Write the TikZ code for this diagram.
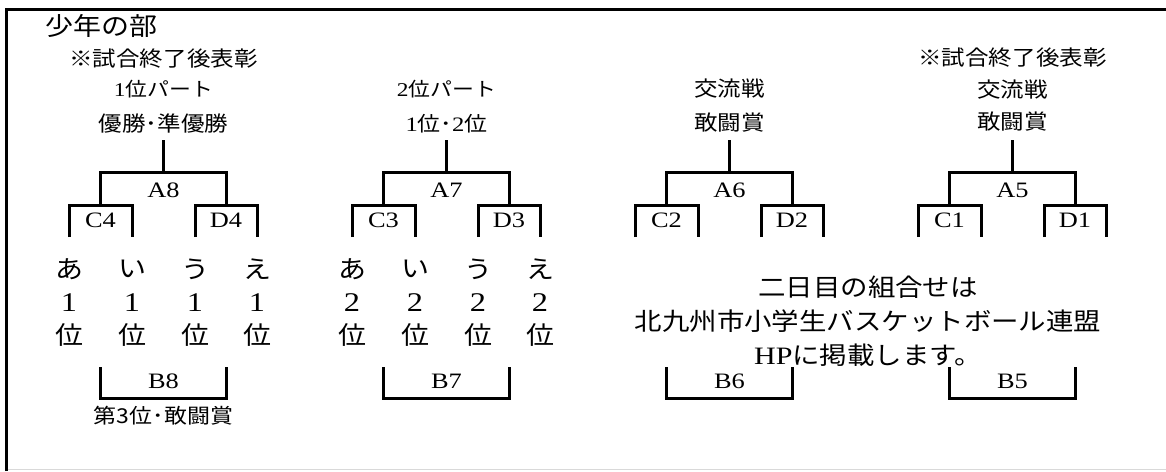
\documentclass[tikz,border=0pt]{standalone}
\usepackage{fontspec}
\setmainfont[FakeStretch=1.2]{Liberation Serif}
\newfontfamily\jpf[FakeStretch=1.12]{Noto Sans CJK JP}
\newcommand\js[1]{\jpf\fontsize{#1}{#1}\selectfont}
\begin{document}
\begin{tikzpicture}[x=1pt,y=-1pt,
  br/.style={line width=3pt},
  lat/.style={inner sep=0pt,font=\rmfamily\fontsize{22}{22}\selectfont},
  jt/.style={inner sep=0pt,font=\js{#1}}, jt/.default=25,
  dig/.style={inner sep=0pt,font=\rmfamily\fontsize{27}{27}\selectfont}]
\useasboundingbox (0,0) rectangle (1166,471);
\fill[white] (0,0) rectangle (1166,471);
% frame
\coordinate (fb) at (6.5,471);
\coordinate (ftl) at (6.5,9);
\coordinate (ftr) at (1166,9);
\draw[line width=3pt] (fb) -- (ftl) -- (ftr);
\coordinate (gl) at (8,469.5);
\coordinate (gr) at (1166,469.5);
\draw[black!15,line width=1.2pt] (gl) -- (gr);
% brackets
\foreach \g/\a/\c in {0/8/4,1/7/3,2/6/2,3/5/1}{
 \begin{scope}[xshift=\g*283pt]
  \coordinate (s\g) at (163.5,140);
  \coordinate (m\g) at (163.5,172);
  \coordinate (al\g) at (100.5,172);
  \coordinate (ar\g) at (226,172);
  \coordinate (cm\g) at (100.5,205);
  \coordinate (dm\g) at (226,205);
  \coordinate (p1\g) at (69,237);  \coordinate (q1\g) at (69,205);
  \coordinate (p2\g) at (132,237); \coordinate (q2\g) at (132,205);
  \coordinate (p3\g) at (195,237); \coordinate (q3\g) at (195,205);
  \coordinate (p4\g) at (257,237); \coordinate (q4\g) at (257,205);
  \coordinate (b1\g) at (100.5,367); \coordinate (b2\g) at (100.5,398);
  \coordinate (b3\g) at (226,398);   \coordinate (b4\g) at (226,367);
  \draw[br] (s\g) -- (m\g);
  \draw[br] (cm\g) -- (al\g) -- (ar\g) -- (dm\g);
  \draw[br] (p1\g) -- (q1\g) -- (q2\g) -- (p2\g);
  \draw[br] (p3\g) -- (q3\g) -- (q4\g) -- (p4\g);
  \draw[br] (b1\g) -- (b2\g) -- (b3\g) -- (b4\g);
  \node[lat] (A\g) at (163.5,190) {A\a};
  \node[lat] (C\g) at (100.5,220.5) {C\c};
  \node[lat] (D\g) at (226,220.5) {D\c};
  \node[lat] (B\g) at (163.5,381) {B\a};
 \end{scope}
}
% leaves
\foreach \g/\n in {0/1,1/2}{
  \foreach \i/\k/\x in {1/あ/69,2/い/132,3/う/195,4/え/257}{
    \node[jt] (k\g\i) at (\x+\g*283,269) {\k};
    \node[dig] (n\g\i) at (\x+\g*283,302.5) {\n};
    \node[jt] (r\g\i) at (\x+\g*283,335) {位};
  }
}
% headers
\node[jt=25,anchor=west] (title) at (45,26) {少年の部};
\node[jt=21] (h0a) at (163.5,59) {※試合終了後表彰};
\node[jt=19.5] (h0b) at (163.5,89) {{\rmfamily 1}位パート};
\node[jt=21] (h0c) at (163.5,124) {優勝･準優勝};
\node[jt=19.5] (h1b) at (446.5,89) {{\rmfamily 2}位パート};
\node[jt=20.5] (h1c) at (446.5,124) {{\rmfamily 1}位･{\rmfamily 2}位};
\node[jt=21] (h2b) at (729.5,89) {交流戦};
\node[jt=21] (h2c) at (729.5,123) {敢闘賞};
\node[jt=21] (h3a) at (1012.5,58) {※試合終了後表彰};
\node[jt=21] (h3b) at (1012.5,90) {交流戦};
\node[jt=21] (h3c) at (1012.5,122) {敢闘賞};
\node[jt=20.5] (f0) at (163.5,416) {第3位･敢闘賞};
% note
\node[inner sep=0pt,align=center,font=\jpf\fontsize{24.5}{34}\selectfont] (note) at (868,321)
  {二日目の組合せは\\北九州市小学生バスケットボール連盟\\{\rmfamily\fontsize{25}{34}\selectfont HP}に掲載します。};
\end{tikzpicture}
\end{document}
